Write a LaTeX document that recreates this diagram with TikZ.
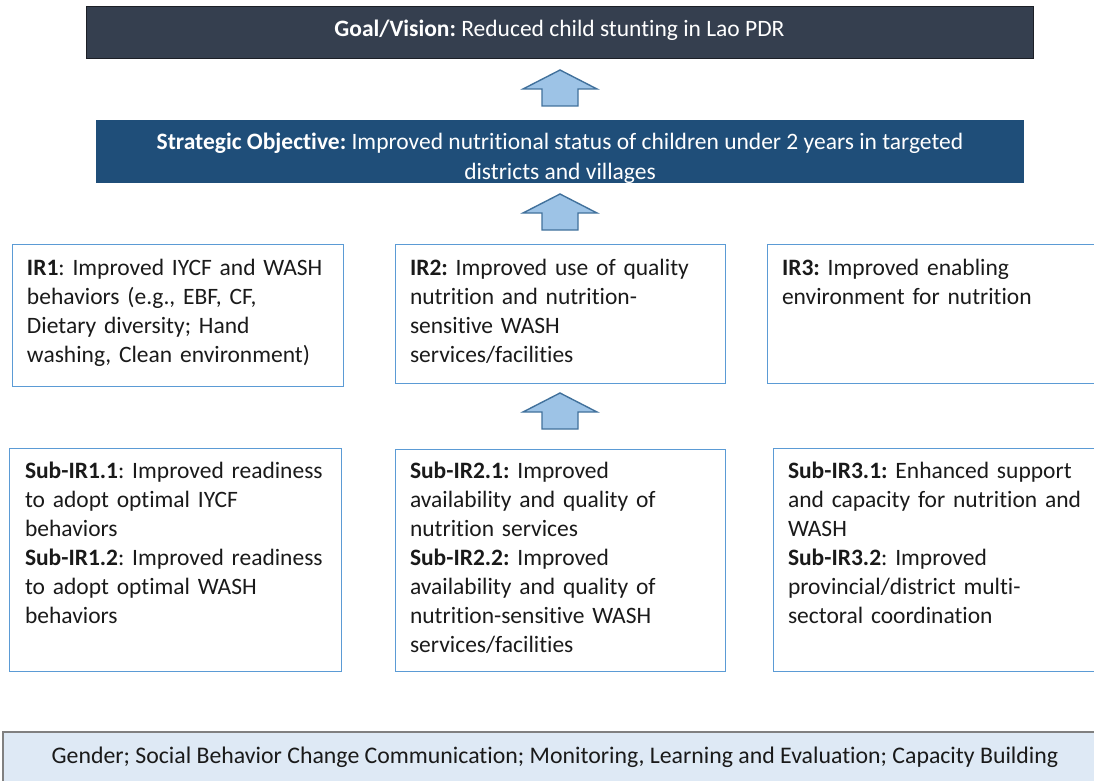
\documentclass[tikz,border=0pt]{standalone}
\usepackage{fontspec}
\setmainfont{Carlito}[Ligatures=NoCommon]
\usetikzlibrary{calc}
\definecolor{goalfill}{HTML}{353F4F}
\definecolor{goalline}{HTML}{1C1F26}
\definecolor{sofill}{HTML}{1F4E79}
\definecolor{boxblue}{HTML}{5B9BD5}
\definecolor{arrowfill}{HTML}{9DC3E6}
\definecolor{arrowline}{HTML}{41719C}
\definecolor{crossfill}{HTML}{DEE9F5}
\definecolor{crossline}{HTML}{808080}
\definecolor{textdark}{HTML}{1A1A1A}
% block arrow pointing up from #1 (base) to #2 (tip)
\newcommand\upblock[2]{%
  \draw[blockarrow] let \p1=(#1), \p2=(#2) in
    (\x1-18pt,\y1) -- (\x1+18pt,\y1) -- (\x1+18pt,\y2-19pt) -- (\x1+37pt,\y2-19pt)
    -- (\x1,\y2) -- (\x1-37pt,\y2-19pt) -- (\x1-18pt,\y2-19pt) -- cycle;}
\newcommand\firstline{\rule{0pt}{20.3pt}}
\frenchspacing
\begin{document}
\frenchspacing
\begin{tikzpicture}[x=1pt,y=-1pt,
  boxbase/.style={rectangle, inner sep=0pt, outer sep=0pt, anchor=north west},
  irbox/.style={boxbase, draw=boxblue, line width=1pt},
  openbox/.style={boxbase},
  body/.style={anchor=north west, inner sep=0pt, outer sep=0pt, align=left,
    text width=345pt, font=\fontsize{23.5}{29}\selectfont\frenchspacing, text=textdark},
  headtext/.style={inner sep=0pt, align=center, text=white,
    font=\fontsize{23.5}{30}\selectfont\frenchspacing},
  blockarrow/.style={fill=arrowfill, draw=arrowline, line width=1.4pt, line join=miter},
]
\useasboundingbox (0,0) rectangle (1094,781);

% goal and strategic objective bars
\node[boxbase, fill=goalfill, draw=goalline, line width=1pt,
  minimum width=947pt, minimum height=52pt] (goal) at (86,7) {};
\node[headtext] (goaltxt) at ($(goal.center)+(0,-3)$)
  {\textbf{Goal/Vision:} Reduced child stunting in Lao PDR};

\node[boxbase, fill=sofill, minimum width=928pt, minimum height=63pt] (so) at (96,120) {};
\node[headtext] (sotxt) at ($(so.center)+(0,7)$)
  {\textbf{Strategic Objective:} Improved nutritional status of children under 2 years in targeted\\districts and villages};

% intermediate results
\node[irbox, minimum width=331pt, minimum height=142pt] (ir1) at (12,244) {};
\node[irbox, minimum width=330pt, minimum height=139pt] (ir2) at (395,244) {};
\node[openbox, minimum width=340pt, minimum height=139pt] (ir3) at (767,244) {};
\draw[boxblue, line width=1pt] (ir3.north east) -- (ir3.north west) -- (ir3.south west) -- (ir3.south east);

\node[body] (ir1txt) at ($(ir1.north west)+(15,10.8)$)
  {\firstline\textbf{IR1}: Improved IYCF and WASH\\behaviors (e.g., EBF, CF,\\Dietary diversity; Hand\\washing, Clean environment)};
\node[body] (ir2txt) at ($(ir2.north west)+(15,10.8)$)
  {\firstline\textbf{IR2:} Improved use of quality\\nutrition and nutrition-\\sensitive WASH\\services/facilities};
\node[body] (ir3txt) at ($(ir3.north west)+(15,10.8)$)
  {\firstline\textbf{IR3:} Improved enabling\\environment for nutrition};

% sub-results
\node[irbox, minimum width=332pt, minimum height=223pt] (sub1) at (9,448) {};
\node[irbox, minimum width=330pt, minimum height=222pt] (sub2) at (395,449) {};
\node[openbox, minimum width=330pt, minimum height=223pt] (sub3) at (773,448) {};
\draw[boxblue, line width=1pt] (sub3.north east) -- (sub3.north west) -- (sub3.south west) -- (sub3.south east);

\node[body] (sub1txt) at ($(sub1.north west)+(16,10.2)$)
  {\firstline\textbf{Sub-IR1.1}: Improved readiness\\to adopt optimal IYCF\\behaviors\\\textbf{Sub-IR1.2}: Improved readiness\\to adopt optimal WASH\\behaviors};
\node[body] (sub2txt) at ($(sub2.north west)+(15,9.4)$)
  {\firstline\textbf{Sub-IR2.1:} Improved\\availability and quality of\\nutrition services\\\textbf{Sub-IR2.2:} Improved\\availability and quality of\\nutrition-sensitive WASH\\services/facilities};
\node[body] (sub3txt) at ($(sub3.north west)+(15,10.2)$)
  {\firstline\textbf{Sub-IR3.1:} Enhanced support\\and capacity for nutrition and\\WASH\\\textbf{Sub-IR3.2}: Improved\\provincial/district multi-\\sectoral coordination};

% cross-cutting themes bar
\node[boxbase, fill=crossfill, minimum width=1100pt, minimum height=60pt] (cross) at (3,732) {};
\draw[crossline, line width=1.5pt] (cross.south west) -- (cross.north west) -- (cross.north east);
\node[inner sep=0pt, text=textdark, font=\fontsize{23.8}{28}\selectfont\frenchspacing] (crosstxt) at (555,757)
  {Gender; Social Behavior Change Communication; Monitoring, Learning and Evaluation; Capacity Building};

% block arrows between levels
\coordinate (a1b) at ($(so.north)+(0,-14)$);
\coordinate (a1t) at ($(goal.south)+(0,11)$);
\coordinate (a2b) at ($(ir2.north)+(0,-14)$);
\coordinate (a2t) at ($(so.south)+(0,11)$);
\coordinate (a3b) at ($(sub2.north)+(0,-20)$);
\coordinate (a3t) at ($(ir2.south)+(0,10)$);
\upblock{a1b}{a1t}
\upblock{a2b}{a2t}
\upblock{a3b}{a3t}
\end{tikzpicture}
\end{document}
